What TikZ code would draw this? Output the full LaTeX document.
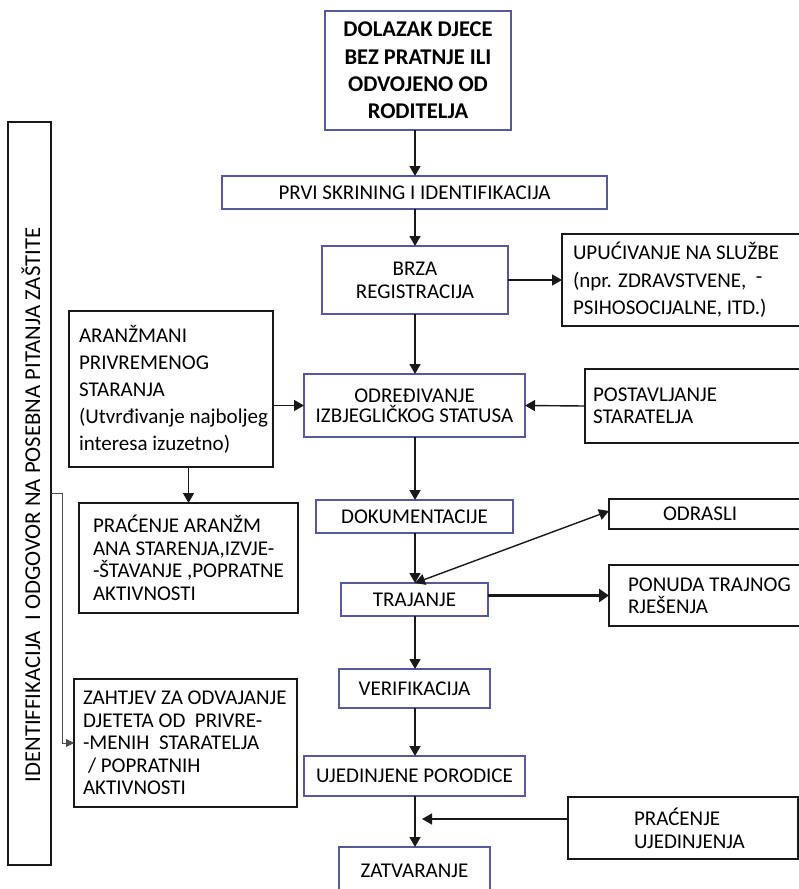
\documentclass[tikz,border=0pt]{standalone}
\usepackage{fontspec}
\setmainfont{Carlito}
\usetikzlibrary{arrows.meta}
\definecolor{blueb}{RGB}{88,88,160}
\definecolor{linek}{RGB}{25,25,25}
\newcommand\fsz[1]{\fontsize{21}{#1}\selectfont}
\newcommand\fszbig[1]{\fontsize{22.5}{#1}\selectfont}
\newcommand\fszvert{\fontsize{22.7}{23}\selectfont}
\hbadness=10000 \hfuzz=100pt
\begin{document}
\begin{tikzpicture}[x=1pt,y=-1pt,
  every node/.style={inner sep=0pt, outer sep=0pt},
  sz/.style 2 args={minimum width=#1pt, minimum height=#2pt},
  bbox/.style={draw=blueb, line width=1.4pt, align=center, font=\fsz{23}},
  kbox/.style={draw=linek, line width=2pt, font=\fsz{23}},
  lt/.style 2 args={align=flush left, inner xsep=#1pt, text width=#2pt},
  arr/.style={draw=linek, line width=1.4pt, -{Triangle[length=10pt,width=11pt]}},
  darr/.style={draw=linek, line width=1.4pt, {Triangle[length=10pt,width=11pt]}-{Triangle[length=10pt,width=11pt]}},
  thickarr/.style={draw=linek, line width=2.6pt, -{Triangle[length=10pt,width=13pt]}},
  thinarr/.style={draw=black!70, line width=0.8pt, -{Triangle[length=8pt,width=8pt]}}
]
\useasboundingbox (0,0) rectangle (799,889);
\clip (0,0) rectangle (799,889);

% main column
\node[bbox, sz={186}{119}, font=\bfseries\fszbig{27.3}] (top) at (418,70.5)
  {DOLAZAK DJECE\\BEZ PRATNJE ILI\\ODVOJENO OD\\RODITELJA};
\node[bbox, sz={385}{33}] (prvi) at (414.5,192.5) {PRVI SKRINING I IDENTIFIKACIJA};
\node[bbox, sz={186}{68}] (brza) at (415,280) {BRZA\\REGISTRACIJA};
\node[bbox, sz={221}{63}, font=\fsz{20}] (odred) at (414.5,405.5) {ODREĐIVANJE\\IZBJEGLIČKOG STATUSA};
\node[bbox, sz={197}{33}] (dok) at (414.5,516.5) {DOKUMENTACIJE};
\node[bbox, sz={147}{33}] (traj) at (414.5,599.5) {TRAJANJE};
\node[bbox, sz={151}{39}] (verif) at (414.5,688.5) {VERIFIKACIJA};
\node[bbox, sz={221}{40}] (ujed) at (414.5,776) {UJEDINJENE PORODICE};
\node[bbox, sz={151}{48}] (zatv) at (414.5,871) {ZATVARANJE};

% right column
\node[kbox, sz={243}{92}, lt={11}{221}, font=\fsz{27.5}] (upuc) at (683.5,280)
  {\mbox{UPUĆIVANJE NA SLUŽBE}\\\mbox{(npr. ZDRAVSTVENE, \ \raisebox{4pt}{-}}\\\mbox{PSIHOSOCIJALNE, ITD.)}};
\node[kbox, sz={220}{74}, lt={8}{204}, font=\fsz{22}] (postav) at (695,406)
  {POSTAVLJANJE\\STARATELJA};
\node[kbox, sz={196}{30}, lt={54}{88}] (odrasli) at (707,514) {ODRASLI};
\node[kbox, sz={196}{61}, lt={19}{158}, font=\fsz{22}] (ponuda) at (707,595.5)
  {\mbox{PONUDA TRAJNOG}\\RJEŠENJA};
\node[kbox, sz={230}{62}, lt={66}{98}] (pracuj) at (683,828)
  {PRAĆENJE\\UJEDINJENJA};

% left column
\node[kbox, sz={43}{743}] (lbox) at (29.5,493.5) {};
\node[rotate=90, font=\fszvert] (ltext) at (31,505)
  {IDENTIFFIKACIJA \ I ODGOVOR NA POSEBNA PITANJA ZAŠTITE};
\node[kbox, sz={204}{156}, lt={10}{184}, font=\fsz{27}] (aran) at (171,389)
  {ARANŽMANI\\PRIVREMENOG\\STARANJA\\\mbox{(Utvrđivanje najboljeg}\\\mbox{interesa izuzetno)}};
\node[kbox, sz={219}{110}, lt={14}{191}, font=\fsz{22.5}] (prac) at (188.5,558)
  {\mbox{PRAĆENJE ARANŽM}\\\mbox{ANA STARENJA,IZVJE-}\\\mbox{-ŠTAVANJE ,POPRATNE}\\AKTIVNOSTI};
\node[kbox, sz={223}{128}, lt={9}{205}, font=\fsz{22.5}] (zaht) at (185.5,743)
  {\mbox{ZAHTJEV ZA ODVAJANJE}\\\mbox{DJETETA OD \ PRIVRE-}\\\mbox{-MENIH \ STARATELJA}\\\mbox{\hspace*{5pt}/ POPRATNIH}\\AKTIVNOSTI};

% helper coordinates
\coordinate (spine) at (415,0);
\coordinate (k1) at (62,493);
\coordinate (meet) at (422,819);

% connectors
\draw[arr] (top.south -| spine) -- (prvi.north -| spine);
\draw[arr] (prvi.south -| spine) -- (brza.north -| spine);
\draw[arr] (brza.south -| spine) -- (odred.north -| spine);
\draw[arr] (odred.south -| spine) -- (dok.north -| spine);
\draw[arr] (dok.south -| spine) -- (traj.north -| spine);
\draw[arr] (traj.south -| spine) -- (verif.north -| spine);
\draw[arr] (verif.south -| spine) -- (ujed.north -| spine);
\draw[arr] (ujed.south -| spine) -- (zatv.north -| spine);

\draw[arr] (brza.east) -- (upuc.west |- brza.east);
\draw[arr] (postav.west) -- (odred.east);
\draw[arr] (aran.east |- odred.west) -- (odred.west);
\draw[arr] (prac.north |- aran.south) -- (prac.north);
\draw[darr] (traj.north -| spine) -- ([yshift=3pt]odrasli.west);
\draw[thickarr] (traj.east |- ponuda.west) -- (ponuda.west);
\draw[arr] (pracuj.west |- meet) -- (meet);
\draw[thinarr] (lbox.east |- k1) -- (k1) |- (zaht.west);
\end{tikzpicture}
\end{document}
